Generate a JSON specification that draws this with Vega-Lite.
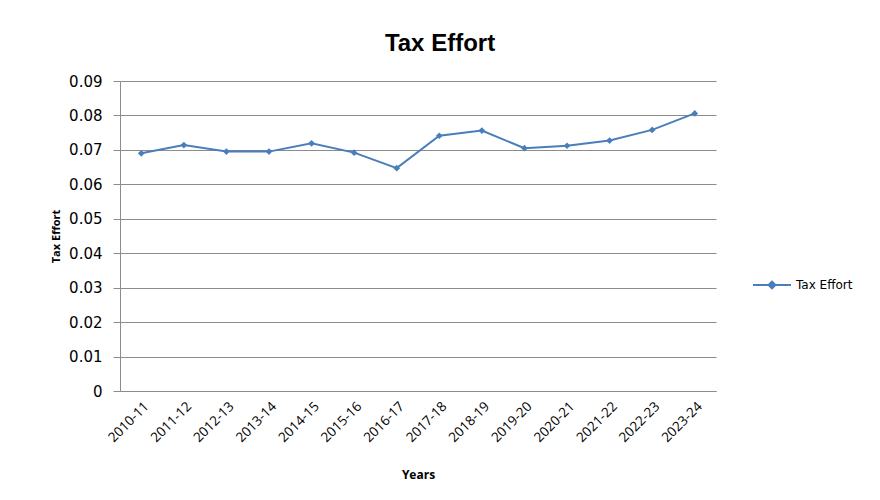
{
  "$schema": "https://vega.github.io/schema/vega-lite/v6.json",
  "width": 596,
  "height": 310,
  "autosize": {"type": "none"},
  "padding": {"left": 120, "top": 81, "right": 164, "bottom": 109},
  "background": "white",
  "title": {
    "text": "Tax Effort",
    "font": "Liberation Sans",
    "fontSize": 24,
    "fontWeight": "bold",
    "color": "#000000",
    "anchor": "middle",
    "dx": 22,
    "offset": 18
  },
  "config": {
    "view": {"stroke": null},
    "axis": {"gridColor": "#8c8c8c", "gridOpacity": 1, "domainColor": "#8c8c8c", "tickColor": "#8c8c8c"}
  },
  "data": {
    "values": [
      {"year": "2010-11", "value": 0.0690, "series": "Tax Effort"},
      {"year": "2011-12", "value": 0.0714, "series": "Tax Effort"},
      {"year": "2012-13", "value": 0.0695, "series": "Tax Effort"},
      {"year": "2013-14", "value": 0.0695, "series": "Tax Effort"},
      {"year": "2014-15", "value": 0.0719, "series": "Tax Effort"},
      {"year": "2015-16", "value": 0.0692, "series": "Tax Effort"},
      {"year": "2016-17", "value": 0.0647, "series": "Tax Effort"},
      {"year": "2017-18", "value": 0.0741, "series": "Tax Effort"},
      {"year": "2018-19", "value": 0.0756, "series": "Tax Effort"},
      {"year": "2019-20", "value": 0.0705, "series": "Tax Effort"},
      {"year": "2020-21", "value": 0.0712, "series": "Tax Effort"},
      {"year": "2021-22", "value": 0.0727, "series": "Tax Effort"},
      {"year": "2022-23", "value": 0.0758, "series": "Tax Effort"},
      {"year": "2023-24", "value": 0.0806, "series": "Tax Effort"}
    ]
  },
  "mark": {"type": "line", "strokeWidth": 2, "point": {"shape": "diamond", "size": 45, "filled": true}},
  "encoding": {
    "x": {
      "field": "year",
      "type": "ordinal",
      "title": "Years",
      "scale": {"paddingInner": 0, "paddingOuter": 0.5},
      "axis": {
        "labelAngle": -45,
        "labelFont": "Open Sans",
        "labelFontSize": 13.5,
        "labelColor": "#000000",
        "ticks": false,
        "labelPadding": 8,
        "titleFont": "Open Sans",
        "titleFontSize": 12,
        "titleFontWeight": "bold",
        "titleColor": "#000000",
        "titlePadding": 25
      }
    },
    "y": {
      "field": "value",
      "type": "quantitative",
      "title": "Tax Effort",
      "scale": {"domain": [0, 0.09], "nice": false},
      "axis": {
        "values": [0, 0.01, 0.02, 0.03, 0.04, 0.05, 0.06, 0.07, 0.08, 0.09],
        "labelExpr": "datum.value == 0 ? '0' : format(datum.value, '.2f')",
        "labelFont": "DejaVu Sans",
        "labelFontSize": 15,
        "labelColor": "#000000",
        "tickSize": 7,
        "labelPadding": 11,
        "titleFont": "Open Sans",
        "titleFontSize": 11,
        "titleFontWeight": "bold",
        "titleColor": "#000000",
        "titlePadding": 7
      }
    },
    "color": {
      "field": "series",
      "type": "nominal",
      "scale": {"range": ["#4a7ebb"]},
      "legend": {
        "title": null,
        "orient": "none",
        "legendX": 632,
        "legendY": 184,
        "symbolType": "M-1,0L1,0M-0.18,0L0,-0.18L0.18,0L0,0.18Z",
        "symbolSize": 1444,
        "symbolStrokeWidth": 2,
        "symbolFillColor": "#4a7ebb",
        "labelFont": "DejaVu Sans",
        "labelFontSize": 12,
        "labelColor": "#000000",
        "labelOffset": 4
      }
    }
  }
}
